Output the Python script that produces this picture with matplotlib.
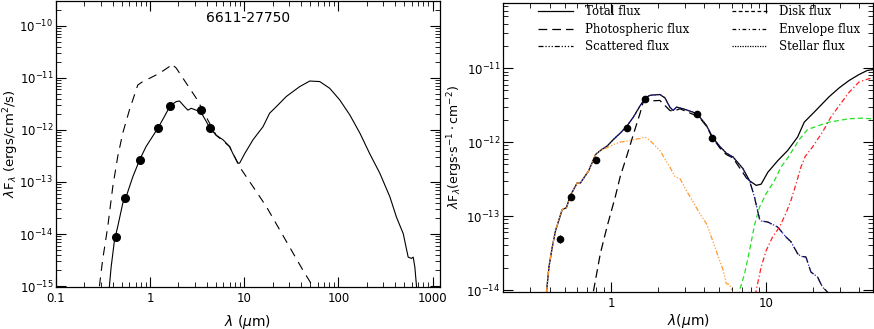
import matplotlib
matplotlib.use('Agg')
import matplotlib.pyplot as plt
from matplotlib.lines import Line2D
from matplotlib.ticker import FixedLocator, FixedFormatter, LogLocator, NullFormatter

# ---- left panel: 6611-27750 ----
left_title = '6611-27750'
obs_wave_l = [0.435, 0.547, 0.776, 1.22, 1.63, 3.46, 4.35]
obs_flux_l = [8.6e-15, 4.9e-14, 2.7e-13, 1.11e-12, 2.9e-12, 2.4e-12, 1.11e-12]

model_wave_l = [0.365, 0.369, 0.385, 0.418, 0.453, 0.512, 0.556, 0.655, 0.776, 0.906, 1.22,
                1.42, 1.63, 1.89, 2.05, 2.32, 2.52, 2.73, 3.08, 3.46, 4.35, 5.03, 5.93,
                6.98, 7.57, 8.57, 8.92, 10.1, 12.4, 15.8, 18.6, 21.9, 28.0, 38.8, 49.6,
                63.3, 80.9, 103, 132, 169, 215, 275, 352, 414, 488, 551, 598, 623, 649,
                676, 680]
model_flux_l = [5.0e-16, 9.8e-16, 2.3e-15, 7.6e-15, 1.4e-14, 3.9e-14, 5.2e-14, 1.26e-13, 2.7e-13,
                4.8e-13, 1.11e-12, 1.82e-12, 2.9e-12, 3.5e-12, 3.6e-12, 2.8e-12, 2.4e-12,
                2.6e-12, 2.4e-12, 2.2e-12, 1.07e-12, 7.9e-13, 6.5e-13, 4.8e-13, 3.5e-13,
                2.3e-13, 2.3e-13, 3.5e-13, 6.5e-13, 1.15e-12, 2.1e-12, 2.8e-12, 4.4e-12,
                6.8e-12, 8.7e-12, 8.5e-12, 6.3e-12, 3.8e-12, 1.95e-12, 8.7e-13, 3.5e-13,
                1.48e-13, 5.2e-14, 2.1e-14, 1.02e-14, 3.6e-15, 3.4e-15, 3.6e-15, 2.3e-15,
                9.8e-16, 5.0e-16]

phot_wave_l = [0.28, 0.289, 0.313, 0.355, 0.401, 0.453, 0.512, 0.602, 0.739, 0.836, 0.984,
               1.26, 1.61, 1.67, 1.89, 2.42, 3.08, 3.63, 4.10, 5.03, 6.98, 8.92, 12.4,
               17.1, 23.8, 33.0, 42.1, 53.7, 60.0]
phot_flux_l = [5.0e-16, 9.8e-16, 3.2e-15, 1.4e-14, 8.1e-14, 3.1e-13, 8.7e-13, 2.4e-12, 7.3e-12,
               8.5e-12, 9.8e-12, 1.23e-11, 1.66e-11, 1.86e-11, 1.55e-11, 7.9e-12, 4.1e-12,
               2.4e-12, 1.55e-12, 7.9e-13, 4.8e-13, 1.95e-13, 8.1e-14, 3.4e-14, 1.2e-14,
               4.3e-15, 2.0e-15, 9.8e-16, 6.3e-16]

# ---- right panel: model components ----
obs_wave_r = [0.466, 0.551, 0.793, 1.26, 1.66, 3.59, 4.50]
obs_flux_r = [4.94e-14, 1.79e-13, 5.8e-13, 1.56e-12, 3.8e-12, 2.4e-12, 1.13e-12]
obs_err_r = [6.5e-15, 0, 0, 0, 0, 0, 0]

total_wave = [0.382, 0.396, 0.416, 0.437, 0.482, 0.514, 0.545, 0.602, 0.632, 0.715, 0.793,
              0.850, 0.938, 1.035, 1.142, 1.26, 1.39, 1.536, 1.66, 1.78, 2.06, 2.22, 2.39,
              2.51, 2.64, 2.92, 3.38, 3.73, 4.12, 4.50, 5.01, 5.53, 6.11, 7.08, 7.82, 8.63,
              9.29, 10.25, 11.88, 13.78, 15.97, 17.63, 20.95, 25.5, 29.6, 34.3, 39.8, 45.0,
              49.6]
total_flux = [9.4e-15, 2.05e-14, 3.8e-14, 6.4e-14, 1.22e-13, 1.30e-13, 1.90e-13, 2.8e-13,
              2.8e-13, 4.1e-13, 6.8e-13, 7.7e-13, 8.8e-13, 1.09e-12, 1.32e-12, 1.64e-12,
              2.18e-12, 3.1e-12, 3.97e-12, 4.3e-12, 4.4e-12, 3.97e-12, 2.97e-12, 2.68e-12,
              2.97e-12, 2.82e-12, 2.54e-12, 2.18e-12, 1.68e-12, 1.17e-12, 8.8e-13, 7.1e-13,
              6.3e-13, 4.4e-13, 3.0e-13, 2.6e-13, 2.7e-13, 3.9e-13, 5.6e-13, 7.7e-13,
              1.17e-12, 1.86e-12, 2.68e-12, 4.1e-12, 5.4e-12, 6.8e-12, 8.2e-12, 9.3e-12,
              9.6e-12]

photo_wave = [0.74, 0.770, 0.850, 0.938, 1.061, 1.142, 1.26, 1.39, 1.536, 1.61, 1.78, 2.06,
              2.39, 2.51, 2.78, 3.38, 3.73, 4.12, 4.50, 5.01, 5.53, 6.11, 6.74, 7.44, 7.82,
              8.41, 9.06, 9.29, 10.25, 11.88, 13.45, 14.47, 15.97, 16.78, 18.07, 19.46,
              21.47, 23.1, 24.3, 25.5]
photo_flux = [6.3e-15, 1.0e-14, 3.1e-14, 7.1e-14, 1.81e-13, 3.4e-13, 6.5e-13, 1.27e-12,
              2.47e-12, 3.5e-12, 3.6e-12, 3.66e-12, 2.68e-12, 2.62e-12, 2.82e-12, 2.37e-12,
              2.13e-12, 1.64e-12, 1.15e-12, 8.4e-13, 6.8e-13, 6.1e-13, 4.5e-13, 3.3e-13,
              3.0e-13, 1.81e-13, 9.2e-14, 8.6e-14, 8.3e-14, 7.1e-14, 5.2e-14, 4.5e-14,
              3.1e-14, 2.85e-14, 2.8e-14, 1.75e-14, 1.5e-14, 1.1e-14, 9.9e-15, 8.9e-15]

scat_wave = [0.382, 0.396, 0.416, 0.437, 0.482, 0.514, 0.545, 0.602, 0.632, 0.715, 0.793,
             0.850, 0.938, 1.035, 1.142, 1.26, 1.39, 1.536, 1.65, 1.78, 2.06, 2.39, 2.58,
             2.78, 3.06, 3.38, 3.73, 4.12, 4.54, 5.01, 5.27, 5.53, 5.81, 6.11]
scat_flux = [9.4e-15, 2.05e-14, 3.8e-14, 6.4e-14, 1.22e-13, 1.30e-13, 1.90e-13, 2.8e-13,
             2.8e-13, 4.1e-13, 6.8e-13, 7.7e-13, 8.4e-13, 9.3e-13, 1.0e-12, 1.03e-12,
             1.08e-12, 1.12e-12, 1.17e-12, 1.05e-12, 7.7e-13, 4.6e-13, 3.4e-13, 3.2e-13,
             2.2e-13, 1.55e-13, 1.08e-13, 7.9e-14, 4.5e-14, 2.5e-14, 1.88e-14, 1.22e-14,
             1.19e-14, 8.9e-15]

stellar_wave = [0.382, 0.396, 0.416, 0.437, 0.482, 0.514, 0.545, 0.602, 0.632, 0.715, 0.793,
                0.850, 0.938, 1.035, 1.142, 1.26, 1.39, 1.536, 1.66, 1.78, 2.06, 2.22, 2.39,
                2.51, 2.64, 2.92, 3.38, 3.73, 4.12, 4.50, 5.01, 5.53, 6.11, 7.08, 7.44, 7.82,
                8.41, 9.06, 9.29, 10.25, 11.88, 13.45, 14.47, 15.97, 16.78, 18.07, 19.46,
                21.47, 23.1, 24.3, 25.5]
stellar_flux = [9.4e-15, 2.05e-14, 3.8e-14, 6.4e-14, 1.22e-13, 1.30e-13, 1.90e-13, 2.8e-13,
                2.8e-13, 4.1e-13, 6.8e-13, 7.7e-13, 8.8e-13, 1.09e-12, 1.32e-12, 1.64e-12,
                2.18e-12, 3.1e-12, 3.97e-12, 4.3e-12, 4.4e-12, 3.97e-12, 2.97e-12, 2.68e-12,
                2.97e-12, 2.82e-12, 2.54e-12, 2.18e-12, 1.68e-12, 1.17e-12, 8.8e-13, 7.1e-13,
                6.3e-13, 4.4e-13, 3.3e-13, 3.0e-13, 1.81e-13, 9.2e-14, 8.6e-14, 8.3e-14,
                7.1e-14, 5.2e-14, 4.5e-14, 3.1e-14, 2.85e-14, 2.8e-14, 1.75e-14, 1.5e-14,
                1.1e-14, 9.9e-15, 8.9e-15]

disk_wave = [6.6, 6.74, 7.26, 7.81, 8.41, 9.06, 10.0, 11.31, 12.49, 13.78, 16.37, 18.52,
             22.0, 25.5, 34.3, 41.8, 49.6]
disk_flux = [6.3e-15, 9.9e-15, 1.66e-14, 3.4e-14, 7.5e-14, 1.32e-13, 2.0e-13, 3.0e-13,
             4.6e-13, 6.1e-13, 1.08e-12, 1.48e-12, 1.68e-12, 1.86e-12, 2.07e-12, 2.11e-12,
             2.05e-12]

env_wave = [8.4, 8.63, 9.29, 10.0, 11.0, 12.2, 13.4, 14.47, 15.59, 16.78, 17.89, 19.94,
            23.1, 26.2, 29.6, 34.3, 39.8, 46.1, 49.6]
env_flux = [6.0e-15, 9.9e-15, 2.05e-14, 3.4e-14, 5.2e-14, 7.1e-14, 1.08e-13, 1.63e-13,
            2.7e-13, 4.6e-13, 6.4e-13, 8.6e-13, 1.36e-12, 2.18e-12, 3.1e-12, 4.7e-12,
            6.5e-12, 7.2e-12, 7.4e-12]

legend_labels = ['Total flux', 'Photospheric flux', 'Scattered flux',
                 'Disk flux', 'Envelope flux', 'Stellar flux']

plt.rcParams['font.family'] = ['DejaVu Sans']
plt.rcParams['mathtext.fontset'] = 'dejavusans'

fig = plt.figure(figsize=(8.74, 3.29), dpi=100)
ax1 = fig.add_axes([56/874, 42/329, 384/874, 286/329])
ax2 = fig.add_axes([503/874, 37/329, 370/874, 289/329])


def style_axis(ax):
    ax.set_xscale('log')
    ax.set_yscale('log')
    ax.tick_params(which='both', direction='in', top=True, right=True, labelsize=8.5)
    ax.tick_params(which='major', length=7, width=0.8)
    ax.tick_params(which='minor', length=3.5, width=0.6)
    ax.yaxis.set_minor_locator(LogLocator(base=10, subs=range(2, 10), numticks=20))
    ax.yaxis.set_minor_formatter(NullFormatter())
    ax.xaxis.set_minor_locator(LogLocator(base=10, subs=range(2, 10), numticks=20))
    ax.xaxis.set_minor_formatter(NullFormatter())
    for s in ax.spines.values():
        s.set_linewidth(0.9)


# left
style_axis(ax1)
ax1.plot(model_wave_l, model_flux_l, color='black', lw=0.8)
ax1.plot(phot_wave_l, phot_flux_l, color='black', lw=0.8, dashes=(8, 6))
ax1.plot(obs_wave_l, obs_flux_l, 'o', color='black', ms=5.5)
ax1.set_xlim(0.1, 1200)
ax1.set_ylim(9.6e-16, 3.0e-10)
ax1.xaxis.set_major_locator(FixedLocator([0.1, 1, 10, 100, 1000]))
ax1.xaxis.set_major_formatter(FixedFormatter(['0.1', '1', '10', '100', '1000']))
ax1.yaxis.set_major_locator(FixedLocator([1e-15, 1e-14, 1e-13, 1e-12, 1e-11, 1e-10]))
ax1.tick_params(axis='y', pad=2)
ax1.text(0.5, 0.94, left_title, transform=ax1.transAxes, ha='center', va='center', fontsize=10)
ax1.set_xlabel(r'$\lambda$ ($\mu$m)', fontsize=10)
ax1.set_ylabel(r'$\lambda$F$_\lambda$ (ergs/cm$^2$/s)', fontsize=9.5)
ax1.xaxis.set_label_coords(0.5, -0.09)
ax1.yaxis.set_label_coords(-0.091, 0.5)

# right
style_axis(ax2)
ax2.plot(total_wave, total_flux, color='black', lw=0.9)
ax2.plot(photo_wave, photo_flux, color='black', lw=0.9, dashes=(7, 4))
ax2.plot(stellar_wave, stellar_flux, color='#1f1fb4', lw=0.9, dashes=(1, 1.5))
ax2.plot(scat_wave, scat_flux, color='#ff9a30', lw=0.9, dashes=(4, 1.5, 1, 1.5, 1, 1.5, 1, 1.5))
ax2.plot(disk_wave, disk_flux, color='#22e022', lw=0.9, dashes=(4, 2.5))
ax2.plot(env_wave, env_flux, color='#ff2020', lw=0.9, dashes=(4, 2, 1, 2))
ax2.errorbar(obs_wave_r, obs_flux_r, yerr=obs_err_r, fmt='o', color='black', ms=4.5,
             elinewidth=0.8, capsize=0)
ax2.set_xlim(0.2, 49)
ax2.set_ylim(9.4e-15, 7.6e-11)
ax2.xaxis.set_major_locator(FixedLocator([1, 10]))
ax2.xaxis.set_major_formatter(FixedFormatter(['1', '10']))
ax2.yaxis.set_major_locator(FixedLocator([1e-14, 1e-13, 1e-12, 1e-11]))
ax2.tick_params(axis='y', pad=2)
ax2.set_xlabel(r'$\lambda$($\mu$m)', fontsize=10)
ax2.set_ylabel(r'$\lambda$F$_\lambda$(ergs$\cdot$s$^{-1}\cdot$cm$^{-2}$)', fontsize=9)
ax2.xaxis.set_label_coords(0.5, -0.068)
ax2.yaxis.set_label_coords(-0.102, 0.5)

handles = [Line2D([], [], color='black', lw=0.9),
           Line2D([], [], color='black', lw=0.9, dashes=(7, 4)),
           Line2D([], [], color='black', lw=0.9, dashes=(4, 1.5, 1, 1.5, 1, 1.5, 1, 1.5)),
           Line2D([], [], color='black', lw=0.9, dashes=(3, 2)),
           Line2D([], [], color='black', lw=0.9, dashes=(3, 2, 1, 2)),
           Line2D([], [], color='black', lw=0.9, dashes=(1, 1))]
ax2.legend(handles, legend_labels, ncol=2, loc='upper left', bbox_to_anchor=(0.065, 1.03),
           frameon=False, handlelength=3.0, handletextpad=1.0, columnspacing=3.6,
           labelspacing=0.4, prop={'family': 'DejaVu Serif', 'size': 8.5})

fig.savefig('out.png', dpi=100)
